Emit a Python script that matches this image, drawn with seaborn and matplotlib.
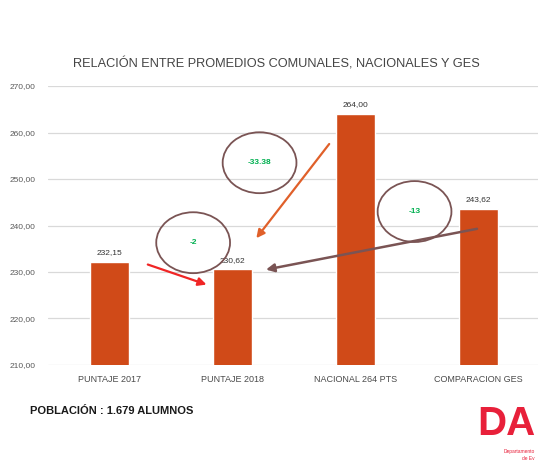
import numpy as np
import pandas as pd
import seaborn as sns
import matplotlib.pyplot as plt
from matplotlib.patches import Ellipse

# data
categories = ['PUNTAJE 2017', 'PUNTAJE 2018', 'NACIONAL 264 PTS', 'COMPARACION GES']
scores = [232.15, 230.62, 264.00, 243.62]
diff_labels = ['-33.38', '-2', '-13']
# ellipse centres (category position, score) for the difference bubbles
diff_x = [1.22, 0.68, 2.48]
diff_y = [253.5, 236.3, 243.0]

sns.set_theme(style='white')
plt.rcParams['font.family'] = ['Liberation Sans', 'DejaVu Sans']

bar_color = '#D04A18'
grid_color = '#D9D9D9'
text_color = '#4A4A4A'

df = pd.DataFrame({'cat': categories, 'score': scores})

fig = plt.figure(figsize=(5.38, 4.62), dpi=100)
ax = fig.add_axes([48/538, 1 - 365/462, 492/538, (365 - 86)/462])

sns.barplot(data=df, x='cat', y='score', color=bar_color, width=0.31,
            saturation=1, ax=ax, zorder=3)
ax.set_ylim(210, 270)
ax.set_xlim(-0.5, 3.5)
ax.set_yticks(np.arange(210, 271, 10))
ax.set_yticklabels([f'{v:.2f}'.replace('.', ',') for v in np.arange(210, 271, 10)],
                   fontsize=6, color='#595959')
ax.tick_params(axis='y', pad=9, length=0)
ax.tick_params(axis='x', pad=7, length=0, labelsize=6.5, labelcolor=text_color)
ax.set_xlabel('')
ax.set_ylabel('')
ax.grid(axis='y', color=grid_color, linewidth=0.9, zorder=0)
for s in ax.spines.values():
    s.set_visible(False)

# value labels
ax.bar_label(ax.containers[0], labels=[f'{v:.2f}'.replace('.', ',') for v in scores],
             fontsize=6, color='#333333', padding=4)

ax.set_title('RELACIÓN ENTRE PROMEDIOS COMUNALES, NACIONALES Y GES',
             fontsize=9.2, color='#444444', pad=13, x=0.465)

# difference bubbles
for lab, cx, cy in zip(diff_labels, diff_x, diff_y):
    ax.add_patch(Ellipse((cx, cy), 0.6, 13.1, fill=False, edgecolor='#7A5454',
                         linewidth=1.3, zorder=5))
    ax.text(cx, cy, lab, ha='center', va='center', fontsize=6,
            color='#00B050', fontweight='bold', zorder=6)

# arrows
ax.annotate('', xy=(1.18, 236.8), xytext=(1.80, 258.0),
            arrowprops=dict(arrowstyle='-|>', color='#E0602A', lw=1.6,
                            mutation_scale=12), zorder=6)
ax.annotate('', xy=(0.81, 227.1), xytext=(0.29, 231.8),
            arrowprops=dict(arrowstyle='-|>', color='#F02525', lw=1.6,
                            mutation_scale=12), zorder=6)
ax.annotate('', xy=(1.25, 230.4), xytext=(3.01, 239.4),
            arrowprops=dict(arrowstyle='-|>', color='#7A5454', lw=1.8,
                            mutation_scale=12), zorder=6)

# footer
fig.text(30/538, 1 - 411/462, 'POBLACIÓN : 1.679 ALUMNOS', fontsize=8,
         fontweight='bold', color='#1A1A1A', va='center')
fig.text(535/538, 1 - 424/462, 'DA', fontsize=29, fontweight='bold',
         color='#E8203A', va='center', ha='right')
fig.text(535/538, 1 - 452/462, 'Departamento', fontsize=3.5,
         color='#E8203A', va='center', ha='right')
fig.text(535/538, 1 - 459/462, 'de Ev', fontsize=3.5,
         color='#E8203A', va='center', ha='right')

fig.savefig('out.png', dpi=100, facecolor='white')
